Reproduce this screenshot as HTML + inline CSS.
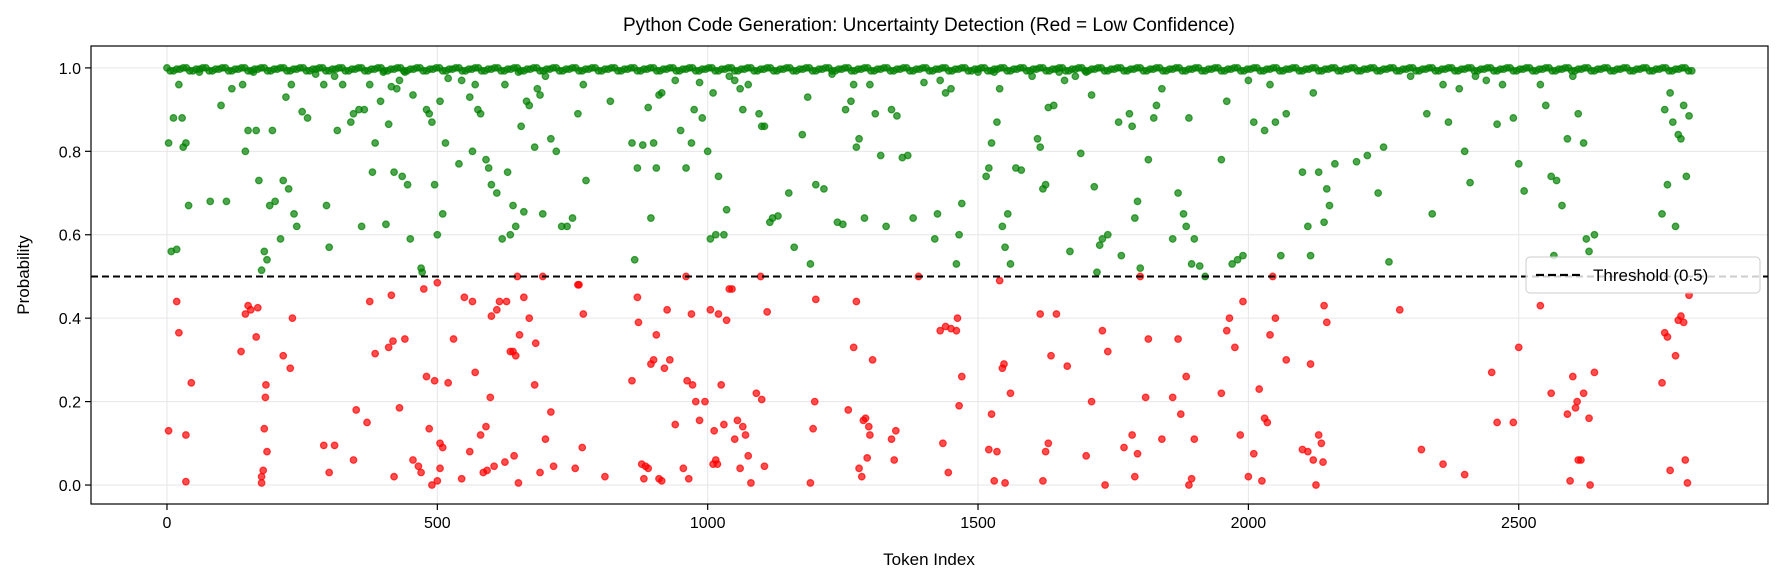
<!DOCTYPE html>
<html><head><meta charset="utf-8"><style>
body{margin:0;background:#fff}
svg{display:block;font-family:"Liberation Sans","DejaVu Sans",sans-serif}
</style></head><body>
<svg id="chart" width="1785" height="584" viewBox="0 0 1785 584" xmlns="http://www.w3.org/2000/svg">
<rect width="1785" height="584" fill="#fff"/>
<text x="929" y="31" font-size="19" text-anchor="middle">Python Code Generation: Uncertainty Detection (Red = Low Confidence)</text>
<g id="grid"></g><g id="marks"></g><g id="axes"></g>
<text x="929" y="565" font-size="17" text-anchor="middle">Token Index</text>
<text transform="translate(29,275) rotate(-90)" font-size="17" text-anchor="middle">Probability</text>
<g>
<rect x="1526" y="257" width="234" height="36" rx="4" fill="#fff" fill-opacity="0.8" stroke="#ccc"/>
<line x1="1536" y1="275" x2="1580" y2="275" stroke="#000" stroke-width="2.2" stroke-dasharray="8,4"/>
<text x="1593" y="281" font-size="17">Threshold (0.5)</text>
</g>
</svg>
<script>
const xTicks=[0,500,1000,1500,2000,2500];
const yTicks=[0.0,0.2,0.4,0.6,0.8,1.0];
const threshold=0.5;
const redPts=[[3,.13],[18,.44],[22,.365],[35,.12],[35,.008],[45,.245],[137,.32],[145,.41],[150,.43],[155,.42],[165,.355],[168,.425],[175,.005],[175,.02],[178,.035],[180,.135],[182,.21],[183,.24],[185,.08],[215,.31],[228,.28],[232,.4],[290,.095],[300,.03],[310,.095],[345,.06],[350,.18],[370,.15],[375,.44],[385,.315],[410,.33],[415,.455],[418,.345],[420,.02],[430,.185],[440,.35],[455,.06],[465,.045],[470,.03],[475,.47],[480,.26],[485,.135],[490,.0],[495,.25],[500,.01],[500,.485],[505,.04],[505,.1],[510,.09],[520,.245],[530,.35],[545,.015],[550,.45],[560,.08],[565,.44],[570,.27],[580,.12],[585,.03],[590,.14],[592,.035],[598,.21],[600,.405],[605,.045],[610,.42],[615,.44],[625,.055],[628,.44],[635,.32],[640,.32],[642,.07],[645,.31],[648,.5],[650,.005],[652,.36],[660,.45],[670,.4],[680,.24],[682,.34],[690,.03],[695,.5],[700,.11],[710,.175],[715,.045],[755,.04],[760,.48],[762,.48],[768,.09],[770,.41],[810,.02],[860,.25],[870,.45],[872,.39],[878,.05],[882,.015],[885,.045],[890,.04],[895,.29],[900,.3],[905,.36],[910,.015],[915,.01],[920,.28],[925,.42],[930,.3],[940,.145],[955,.04],[960,.5],[962,.25],[965,.015],[970,.41],[972,.24],[978,.2],[985,.155],[995,.2],[1005,.42],[1010,.05],[1012,.13],[1015,.06],[1018,.05],[1020,.41],[1025,.24],[1030,.145],[1035,.395],[1040,.47],[1045,.47],[1050,.11],[1055,.155],[1060,.04],[1065,.14],[1070,.12],[1075,.07],[1080,.005],[1090,.22],[1098,.5],[1100,.205],[1105,.045],[1110,.415],[1190,.005],[1195,.135],[1198,.2],[1200,.445],[1260,.18],[1270,.33],[1275,.44],[1280,.04],[1285,.02],[1288,.155],[1292,.16],[1295,.065],[1298,.14],[1300,.12],[1305,.3],[1340,.11],[1345,.06],[1348,.13],[1390,.5],[1430,.37],[1435,.1],[1440,.38],[1445,.03],[1450,.375],[1460,.37],[1462,.4],[1465,.19],[1470,.26],[1520,.085],[1525,.17],[1530,.01],[1535,.08],[1540,.49],[1545,.28],[1548,.29],[1550,.005],[1560,.22],[1615,.41],[1620,.01],[1625,.08],[1630,.1],[1635,.31],[1645,.41],[1665,.285],[1700,.07],[1710,.2],[1730,.37],[1735,.0],[1740,.32],[1770,.09],[1785,.12],[1790,.02],[1795,.075],[1800,.5],[1810,.21],[1815,.35],[1840,.11],[1860,.21],[1870,.35],[1875,.17],[1885,.26],[1890,.0],[1895,.015],[1900,.11],[1950,.22],[1960,.37],[1965,.4],[1975,.33],[1985,.12],[1990,.44],[2000,.02],[2010,.075],[2020,.23],[2025,.01],[2030,.16],[2035,.15],[2040,.36],[2045,.5],[2050,.4],[2070,.3],[2100,.085],[2110,.08],[2115,.29],[2120,.06],[2125,.0],[2130,.12],[2135,.1],[2138,.055],[2140,.43],[2145,.39],[2280,.42],[2320,.085],[2360,.05],[2400,.025],[2450,.27],[2460,.15],[2490,.15],[2500,.33],[2540,.43],[2560,.22],[2590,.17],[2595,.01],[2600,.26],[2605,.185],[2608,.2],[2610,.06],[2615,.06],[2620,.22],[2630,.16],[2632,.0],[2640,.27],[2765,.245],[2770,.365],[2775,.355],[2780,.035],[2790,.31],[2795,.395],[2800,.405],[2805,.39],[2808,.06],[2812,.005],[2815,.455]];
const greenPts=[[3,.82],[8,.56],[12,.88],[18,.565],[22,.96],[28,.88],[30,.81],[35,.82],[40,.67],[60,.99],[80,.68],[100,.91],[110,.68],[120,.95],[140,.96],[145,.8],[150,.85],[160,.99],[165,.85],[170,.73],[175,.515],[180,.56],[185,.54],[190,.67],[195,.85],[200,.68],[210,.59],[215,.73],[220,.93],[225,.71],[230,.96],[235,.65],[240,.62],[250,.895],[260,.88],[275,.985],[290,.96],[295,.67],[300,.57],[310,.98],[315,.85],[325,.96],[340,.87],[345,.89],[355,.9],[360,.62],[365,.9],[375,.96],[380,.75],[385,.82],[395,.92],[400,.99],[405,.625],[410,.865],[415,.955],[420,.75],[425,.95],[430,.97],[435,.74],[440,.99],[445,.72],[450,.59],[455,.935],[470,.52],[472,.51],[480,.9],[485,.89],[490,.87],[495,.72],[500,.6],[505,.92],[510,.65],[515,.82],[520,.975],[540,.77],[545,.97],[560,.93],[565,.8],[570,.96],[575,.9],[580,.89],[590,.78],[595,.76],[600,.72],[610,.7],[620,.59],[625,.96],[630,.75],[635,.6],[640,.67],[645,.62],[650,.99],[655,.86],[660,.655],[665,.92],[670,.91],[680,.81],[685,.95],[690,.935],[695,.65],[700,.98],[710,.83],[720,.8],[730,.62],[740,.62],[750,.64],[760,.89],[770,.96],[775,.73],[820,.92],[860,.82],[865,.54],[870,.76],[880,.815],[890,.905],[895,.64],[900,.82],[905,.76],[910,.935],[915,.94],[940,.97],[950,.85],[960,.76],[970,.82],[975,.9],[985,.965],[990,.88],[1000,.8],[1005,.59],[1010,.94],[1015,.6],[1020,.74],[1030,.6],[1035,.66],[1040,.98],[1050,.97],[1060,.95],[1065,.9],[1075,.96],[1095,.89],[1100,.86],[1105,.86],[1115,.63],[1120,.64],[1130,.645],[1150,.7],[1160,.57],[1175,.84],[1185,.93],[1190,.53],[1200,.72],[1215,.71],[1230,.985],[1240,.63],[1250,.625],[1255,.9],[1265,.92],[1270,.96],[1275,.81],[1280,.83],[1290,.64],[1300,.96],[1310,.89],[1320,.79],[1330,.62],[1340,.9],[1350,.885],[1360,.785],[1370,.79],[1380,.64],[1400,.965],[1420,.59],[1425,.65],[1430,.97],[1440,.94],[1450,.95],[1460,.53],[1465,.6],[1470,.675],[1500,.99],[1515,.74],[1520,.76],[1525,.82],[1530,.99],[1535,.87],[1540,.95],[1545,.62],[1550,.57],[1555,.65],[1560,.53],[1570,.76],[1580,.755],[1600,.98],[1610,.83],[1615,.81],[1620,.71],[1625,.72],[1630,.905],[1640,.91],[1650,.99],[1660,.97],[1670,.56],[1680,.98],[1690,.795],[1700,.99],[1710,.935],[1715,.715],[1720,.51],[1725,.575],[1730,.59],[1740,.6],[1760,.87],[1765,.55],[1780,.89],[1785,.86],[1790,.64],[1795,.68],[1800,.52],[1815,.78],[1825,.88],[1830,.91],[1840,.95],[1860,.59],[1870,.7],[1880,.65],[1885,.62],[1890,.88],[1895,.53],[1900,.59],[1910,.525],[1920,.5],[1950,.78],[1960,.92],[1970,.53],[1980,.54],[1990,.55],[2000,.97],[2010,.87],[2030,.85],[2040,.96],[2050,.87],[2060,.55],[2070,.89],[2100,.75],[2110,.62],[2115,.55],[2120,.94],[2130,.75],[2140,.63],[2145,.71],[2150,.67],[2160,.77],[2200,.775],[2220,.79],[2240,.7],[2250,.81],[2260,.535],[2300,.98],[2330,.89],[2340,.65],[2360,.96],[2370,.87],[2390,.95],[2400,.8],[2410,.725],[2420,.98],[2440,.97],[2460,.865],[2470,.96],[2490,.88],[2500,.77],[2510,.705],[2540,.96],[2550,.91],[2560,.74],[2565,.55],[2570,.73],[2580,.67],[2590,.83],[2600,.98],[2610,.89],[2620,.82],[2625,.59],[2630,.56],[2640,.6],[2765,.65],[2770,.9],[2775,.72],[2780,.94],[2785,.87],[2790,.62],[2795,.84],[2800,.83],[2805,.91],[2810,.74],[2815,.885]];
const bandX=[0,12,24,36,48,60,72,84,96,108,120,132,144,156,168,180,192,204,216,228,240,252,264,276,288,300,312,324,336,348,360,372,384,396,408,420,432,444,456,468,480,492,504,516,528,540,552,564,576,588,600,612,624,636,648,660,672,684,696,708,720,732,744,756,768,780,792,804,816,828,840,852,864,876,888,900,912,924,936,948,960,972,984,996,1008,1020,1032,1044,1056,1068,1080,1092,1104,1116,1128,1140,1152,1164,1176,1188,1200,1212,1224,1236,1248,1260,1272,1284,1296,1308,1320,1332,1344,1356,1368,1380,1392,1404,1416,1428,1440,1452,1464,1476,1488,1500,1512,1524,1536,1548,1560,1572,1584,1596,1608,1620,1632,1644,1656,1668,1680,1692,1704,1716,1728,1740,1752,1764,1776,1788,1800,1812,1824,1836,1848,1860,1872,1884,1896,1908,1920,1932,1944,1956,1968,1980,1992,2004,2016,2028,2040,2052,2064,2076,2088,2100,2112,2124,2136,2148,2160,2172,2184,2196,2208,2220,2232,2244,2256,2268,2280,2292,2304,2316,2328,2340,2352,2364,2376,2388,2400,2412,2424,2436,2448,2460,2472,2484,2496,2508,2520,2532,2544,2556,2568,2580,2592,2604,2616,2628,2640,2652,2664,2676,2688,2700,2712,2724,2736,2748,2760,2772,2784,2796,2808,2820];
const bandX2=[6,18,30,42,54,66,78,90,102,114,126,138,150,162,174,186,198,210,222,234,246,258,270,282,294,306,318,330,342,354,366,378,390,402,414,426,438,450,462,474,486,498,510,522,534,546,558,570,582,594,606,618,630,642,654,666,678,690,702,714,726,738,750,762,774,786,798,810,822,834,846,858,870,882,894,906,918,930,942,954,966,978,990,1002,1014,1026,1038,1050,1062,1074,1086,1098,1110,1122,1134,1146,1158,1170,1182,1194,1206,1218,1230,1242,1254,1266,1278,1290,1302,1314,1326,1338,1350,1362,1374,1386,1398,1410,1422,1434,1446,1458,1470,1482,1494,1506,1518,1530,1542,1554,1566,1578,1590,1602,1614,1626,1638,1650,1662,1674,1686,1698,1710,1722,1734,1746,1758,1770,1782,1794,1806,1818,1830,1842,1854,1866,1878,1890,1902,1914,1926,1938,1950,1962,1974,1986,1998,2010,2022,2034,2046,2058,2070,2082,2094,2106,2118,2130,2142,2154,2166,2178,2190,2202,2214,2226,2238,2250,2262,2274,2286,2298,2310,2322,2334,2346,2358,2370,2382,2394,2406,2418,2430,2442,2454,2466,2478,2490,2502,2514,2526,2538,2550,2562,2574,2586,2598,2610,2622,2634,2646,2658,2670,2682,2694,2706,2718,2730,2742,2754,2766,2778,2790,2802,2814];
const bandY=[1.0,0.993,0.997];

const NS="http://www.w3.org/2000/svg";
const L=91,R=1768,T=46,B=504;
const xMin=-140.5,xMax=2961,yMin=-0.0455,yMax=1.0525;
const sx=v=>L+(v-xMin)/(xMax-xMin)*(R-L);
const sy=v=>B-(v-yMin)/(yMax-yMin)*(B-T);
function mk(tag,attrs,parent){const e=document.createElementNS(NS,tag);for(const k in attrs)e.setAttribute(k,attrs[k]);parent.appendChild(e);return e;}
const grid=document.getElementById('grid'),marks=document.getElementById('marks'),axes=document.getElementById('axes');
xTicks.forEach(t=>{
  const g=mk('line',{x1:sx(t),x2:sx(t),y1:T,y2:B,stroke:'#e6e6e6','stroke-width':1},grid);
  
  
  mk('line',{x1:sx(t),x2:sx(t),y1:B,y2:B+6,stroke:'#000','stroke-width':1.2},axes);
  const tx=mk('text',{x:sx(t),y:B+24,'font-size':16,'text-anchor':'middle'},axes);
  tx.textContent=t;
  
  
});
yTicks.forEach(t=>{
  const g=mk('line',{x1:L,x2:R,y1:sy(t),y2:sy(t),stroke:'#e6e6e6','stroke-width':1},grid);
  
  
  mk('line',{x1:L-6,x2:L,y1:sy(t),y2:sy(t),stroke:'#000','stroke-width':1.2},axes);
  const tx=mk('text',{x:L-10,y:sy(t)+6,'font-size':16,'text-anchor':'end'},axes);
  tx.textContent=t.toFixed(1);
  
  
});
function dot(x,y,col,name){
  const c=mk('circle',{cx:sx(x),cy:sy(y),r:3.3,fill:col,'fill-opacity':0.7,stroke:col,'stroke-opacity':0.7,'stroke-width':1.2},marks);
  
  
}
bandX.forEach((x,i)=>dot(x,bandY[i%3],'#008000','high-confidence-point'));
bandX2.forEach((x,i)=>dot(x,bandY[(i+1)%3],'#008000','high-confidence-point'));
greenPts.forEach(p=>dot(p[0],p[1],'#008000','high-confidence-point'));
redPts.forEach(p=>dot(p[0],p[1],'#ff0000','low-confidence-point'));
const th=mk('line',{x1:L,x2:R,y1:sy(threshold),y2:sy(threshold),stroke:'#000','stroke-width':2,'stroke-dasharray':'7,4'},marks);


const fr=mk('rect',{x:L,y:T,width:R-L,height:B-T,fill:'none',stroke:'#000','stroke-width':1.2},axes);


</script>
</body></html>
